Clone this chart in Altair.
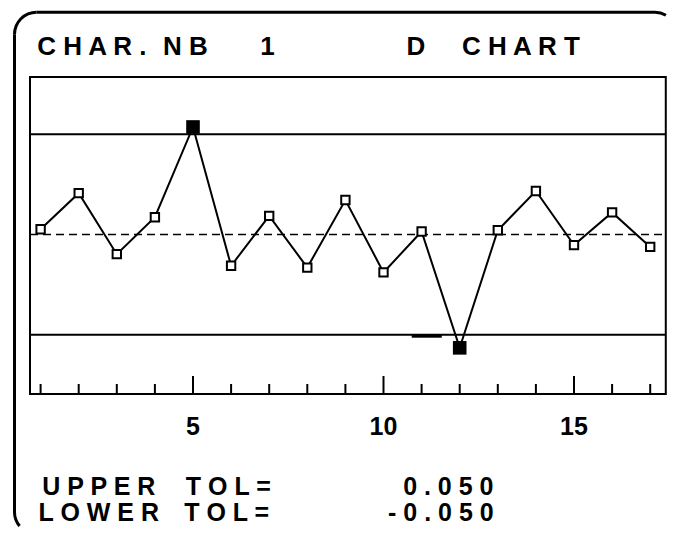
import math
import altair as alt
import pandas as pd

# ---- data ----
samples = list(range(1, 18))
d_values = [0.0026, 0.0206, -0.0098, 0.0086, 0.0536, -0.0156, 0.0093, -0.0165,
            0.0172, -0.0189, 0.0015, -0.0565, 0.0021, 0.0217, -0.0053, 0.0110, -0.0062]
upper_tol = 0.050
lower_tol = -0.050
center_value = 0.0
tick_positions = list(range(1, 18))
major_ticks = [5, 10, 15]
plot_x_domain = [0.7218, 17.409]      # sample-axis extent of the inner plot box
plot_y_domain = [-0.0795, 0.0785]     # D-value extent of the inner plot box
glitch_x = [10.74, 11.53]             # short thick stroke drawn on the lower limit
title_words = ["CHAR.", "NB", "1", "D", "CHART"]
tol_words = ["UPPER", "TOL=", "LOWER", "TOL="]

FONT = "Liberation Sans"
W, H = 659, 519   # whole drawing (the view covers the full sheet)

def spaced(s):
    return " ".join(list(s))

x_scale = alt.Scale(domain=[0.14436, 17.4409], nice=False, zero=False)
y_scale = alt.Scale(domain=[-0.145813, 0.112911], nice=False, zero=False)
X = lambda f: alt.X(f"{f}:Q", scale=x_scale, axis=None)
Y = lambda f: alt.Y(f"{f}:Q", scale=y_scale, axis=None)

df = pd.DataFrame({"n": samples, "d": d_values})
df["out"] = (df["d"] > upper_tol) | (df["d"] < lower_tol)
base = alt.Chart(df)

box = alt.Chart(pd.DataFrame({"x": [plot_x_domain[0]], "x2": [plot_x_domain[1]],
                              "y": [plot_y_domain[1]], "y2": [plot_y_domain[0]]})).mark_rect(
    fillOpacity=0, stroke="black", strokeWidth=2).encode(
    x=X("x"), x2="x2:Q", y=Y("y"), y2="y2:Q")

lim_df = pd.DataFrame({"y": [upper_tol, lower_tol],
                       "x": [plot_x_domain[0]] * 2, "x2": [plot_x_domain[1]] * 2})
tol_lines = alt.Chart(lim_df).mark_rule(color="black", strokeWidth=2).encode(
    x=X("x"), x2="x2:Q", y=Y("y"))

ctr = alt.Chart(pd.DataFrame({"y": [center_value], "x": [plot_x_domain[0]],
                              "x2": [plot_x_domain[1]]})).mark_rule(
    color="black", strokeWidth=1.5, strokeDash=[8, 5]).encode(x=X("x"), x2="x2:Q", y=Y("y"))

glitch = alt.Chart(pd.DataFrame({"x": [glitch_x[0]], "x2": [glitch_x[1]],
                                 "y": [lower_tol - 0.0007]})).mark_rule(
    color="black", strokeWidth=3).encode(x=X("x"), x2="x2:Q", y=Y("y"))

ticks_df = pd.DataFrame({"t": tick_positions, "yb": [plot_y_domain[0]] * len(tick_positions)})
ticks_df["major"] = ticks_df["t"].isin(major_ticks)
BOX_BOTTOM = 386
minor_ticks = alt.Chart(ticks_df).transform_filter("!datum.major").mark_rule(
    color="black", strokeWidth=2).encode(x=X("t"), y=Y("yb"), y2=alt.value(BOX_BOTTOM - 10))
maj_ticks = alt.Chart(ticks_df).transform_filter("datum.major").mark_rule(
    color="black", strokeWidth=2).encode(x=X("t"), y=Y("yb"), y2=alt.value(BOX_BOTTOM - 18))
tick_labels = alt.Chart(pd.DataFrame({"t": major_ticks})).mark_text(
    font=FONT, fontWeight="bold", fontSize=25, color="black", align="center",
    baseline="alphabetic").encode(x=X("t"), y=alt.value(427), text="t:Q")

line = base.mark_line(color="black", strokeWidth=2).encode(x=X("n"), y=Y("d"))

open_pts = base.transform_filter("!datum.out").mark_point(
    shape="square", filled=True, fill="white", stroke="black", strokeWidth=2,
    size=70, opacity=1).encode(x=X("n"), y=Y("d"))
full_pts = base.transform_filter("datum.out").mark_point(
    shape="square", filled=True, color="black", size=185, opacity=1,
    strokeWidth=0).encode(x=X("n"), y=Y("d"))

# ---- rounded sheet outline (only the parts that fall inside the picture) ----
one = pd.DataFrame({"k": [0]})
R_OUT, R_IN = 23.5, 20.5
top_edge = alt.Chart(one).mark_rule(color="black", strokeWidth=3).encode(
    x=alt.value(28.5), x2=alt.value(647), y=alt.value(4.3))
left_edge = alt.Chart(one).mark_rule(color="black", strokeWidth=3).encode(
    x=alt.value(6.5), y=alt.value(26.3), y2=alt.value(504))

def corner(cx, cy, t0, t1):
    return alt.Chart(one).mark_arc(radius=R_OUT, radius2=R_IN, theta=t0, theta2=t1,
                                   color="black").encode(x=alt.value(cx), y=alt.value(cy))

corners = [
    corner(28.5, 26.3, 1.5 * math.pi, 2 * math.pi),
    corner(647, 26.3, 0.0, 0.52),
    corner(28.5, 504, 4.02, 1.5 * math.pi),
]

def txt(s, x, y, size, align="left"):
    return alt.Chart(pd.DataFrame({"s": [s]})).mark_text(
        font=FONT, fontWeight="bold", fontSize=size, color="black",
        align=align, baseline="alphabetic").encode(
        text="s:N", x=alt.value(x), y=alt.value(y))

ROW1, ROW2 = 487.0, 513.4
texts = [
    txt(spaced(title_words[0]), 29.2, 47, 26),
    txt(spaced(title_words[1]), 155.1, 47, 26),
    txt(title_words[2], 252.2, 47, 26),
    txt(title_words[3], 398.4, 47, 26),
    txt(spaced(title_words[4]), 453.9, 47, 26),
    txt(spaced(tol_words[0]), 90.8, ROW1, 25, "center"),
    txt(spaced(tol_words[1]), 220.3, ROW1, 25, "center"),
    txt(spaced(f"{upper_tol:.3f}"), 440.3, ROW1, 25, "center"),
    txt(spaced(tol_words[2]), 90.8, ROW2, 25, "center"),
    txt(spaced(tol_words[3]), 218.7, ROW2, 25, "center"),
    txt(spaced(f"{lower_tol:.3f}"), 432.9, ROW2, 25, "center"),
]

chart = alt.layer(
    top_edge, left_edge, *corners, box, tol_lines, ctr, glitch, minor_ticks, maj_ticks,
    tick_labels, line, open_pts, full_pts, *texts
).properties(
    width=W, height=H,
    padding=0,
    autosize=alt.AutoSizeParams(type="none"),
    background="white",
).configure_view(stroke=None)

chart.save("out.html", embed_options={"renderer": "svg", "actions": False})
